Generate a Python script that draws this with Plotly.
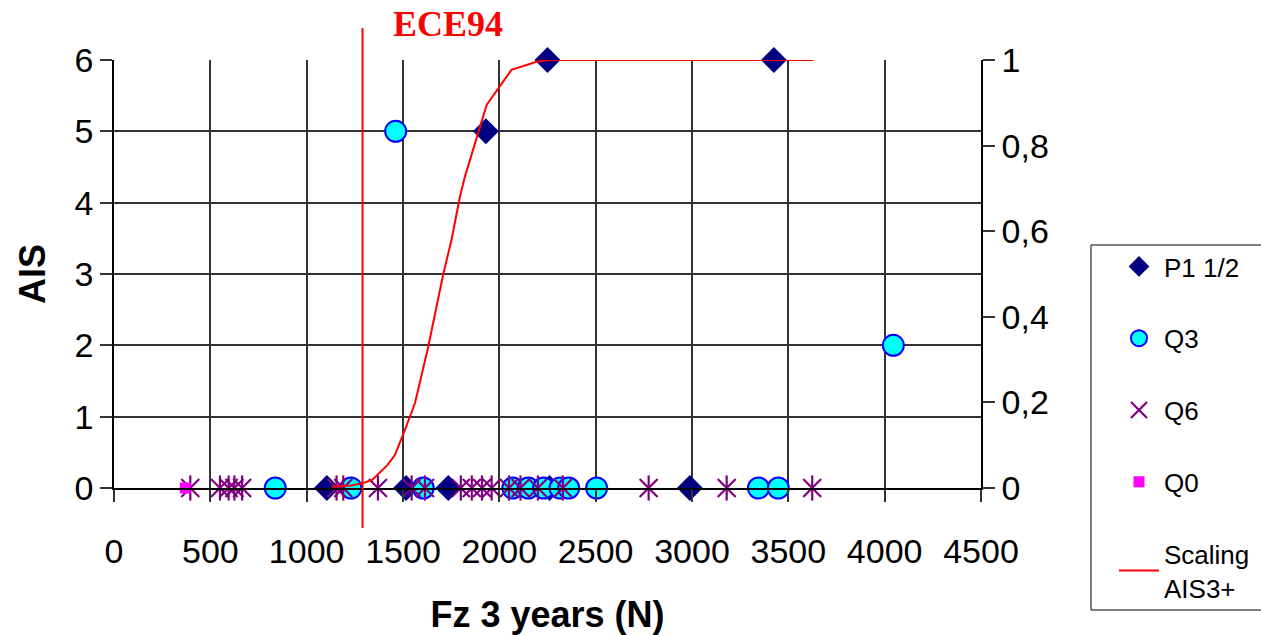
import plotly.graph_objects as go

# ---------------- data ----------------
p1_x = [1105, 1516, 1735, 2260, 2989, 1930, 2250, 3425]
p1_y = [0, 0, 0, 0, 0, 5, 6, 6]

q3_x = [837, 1230, 1605, 2070, 2150, 2230, 2315, 2360, 2505, 3345, 3448, 1462, 4045]
q3_y = [0, 0, 0, 0, 0, 0, 0, 0, 0, 0, 0, 5, 2]

q6_x = [396, 550, 595, 625, 665, 1155, 1190, 1370, 1545, 1614, 1800, 1857, 1910, 1960,
        2050, 2110, 2200, 2330, 2775, 3180, 3624]
q6_y = [0] * len(q6_x)

q0_x = [370]
q0_y = [0]

scaling_x = [1130, 1230, 1290, 1340, 1420, 1458, 1510, 1562, 1631, 1709, 1752, 1795, 1821,
             1934, 2063, 2193, 2262, 3630]
scaling_y = [0.003, 0.006, 0.011, 0.019, 0.054, 0.077, 0.136, 0.198, 0.33, 0.5, 0.58, 0.68,
             0.727, 0.895, 0.977, 0.996, 1.0, 1.0]

ece94_x = 1290

x_ticks = [0, 500, 1000, 1500, 2000, 2500, 3000, 3500, 4000, 4500]
y_ticks = [0, 1, 2, 3, 4, 5, 6]
y2_ticks = [0, 0.2, 0.4, 0.6, 0.8, 1.0]
y2_ticktext = ["0", "0,2", "0,4", "0,6", "0,8", "1"]

# ---------------- figure ----------------
W, H = 1261, 635
ML, MR, MT, MB = 114, 280, 60, 147
FONT = "Liberation Sans, Arial, sans-serif"

fig = go.Figure()

fig.add_trace(go.Scatter(
    x=p1_x, y=p1_y, mode="markers", name="P1 1/2", legendgroup="a",
    marker=dict(symbol="diamond", size=20, color="#000080", line=dict(width=0)),
    cliponaxis=False))
fig.add_trace(go.Scatter(
    x=q3_x, y=q3_y, mode="markers", name="Q3", legendgroup="b",
    marker=dict(symbol="circle", size=21, color="#00FFFF", line=dict(width=2, color="#0000FF")),
    cliponaxis=False))
fig.add_trace(go.Scatter(
    x=q6_x, y=q6_y, mode="markers", name="Q6", legendgroup="c",
    marker=dict(symbol="x-thin-open", size=18, color="#800080", line=dict(width=2.2, color="#800080")),
    cliponaxis=False))
fig.add_trace(go.Scatter(
    x=q6_x, y=q6_y, mode="markers", name="Q6", legendgroup="c", showlegend=False,
    marker=dict(symbol="line-ns-open", size=18, color="#800080", line=dict(width=2.2, color="#800080")),
    cliponaxis=False))
fig.add_trace(go.Scatter(
    x=q0_x, y=q0_y, mode="markers", name="Q0", legendgroup="d",
    marker=dict(symbol="square", size=11, color="#FF00FF", line=dict(width=0)),
    cliponaxis=False))
fig.add_trace(go.Scatter(
    x=scaling_x, y=scaling_y, mode="lines", name="Scaling<br>AIS3+", legendgroup="e",
    line=dict(color="#FF0000", width=2), yaxis="y2", cliponaxis=False))

pw = W - ML - MR
ph = H - MT - MB

def px2paper_x(px):
    return (px - ML) / pw

def px2paper_y(py):
    return (H - MB - py) / ph

# ECE94 vertical line
fig.add_shape(type="line", xref="x", yref="paper", x0=ece94_x, x1=ece94_x,
              y0=px2paper_y(528), y1=px2paper_y(28),
              line=dict(color="#FF0000", width=2), layer="above")
fig.add_annotation(text="<b>ECE94</b>", xref="x", yref="paper", x=ece94_x + 150,
                   y=px2paper_y(24), xanchor="left", yanchor="middle", showarrow=False,
                   font=dict(family="Liberation Serif, Times New Roman, serif", size=36, color="#FF0000"))

# legend box
fig.add_shape(type="rect", xref="paper", yref="paper",
              x0=px2paper_x(1091), x1=px2paper_x(1265),
              y0=px2paper_y(610), y1=px2paper_y(245),
              line=dict(color="#000000", width=1), fillcolor="white", layer="below")

fig.update_layout(
    width=W, height=H,
    margin=dict(l=ML, r=MR, t=MT, b=MB, autoexpand=False),
    paper_bgcolor="white", plot_bgcolor="white",
    font=dict(family=FONT, color="#000000"),
    showlegend=True,
    legend=dict(x=px2paper_x(1114), y=px2paper_y(243), xanchor="left", yanchor="top",
                bgcolor="rgba(0,0,0,0)", borderwidth=0,
                font=dict(family=FONT, size=26, color="#000000"),
                traceorder="grouped", tracegroupgap=35, itemwidth=40),
    xaxis=dict(range=[0, 4500], tickvals=x_ticks, showgrid=True, gridcolor="#333333", gridwidth=1.5,
               zeroline=False, showline=True, linecolor="#000000", linewidth=1.5,
               ticks="outside", ticklen=12, tickcolor="#333333", tickwidth=1.5,
               tickfont=dict(size=34), ticklabelstandoff=20,
               title=dict(text="<b>Fz 3 years (N)</b>", font=dict(size=36), standoff=34)),
    yaxis=dict(range=[0, 6], tickvals=y_ticks, showgrid=True, gridcolor="#333333", gridwidth=1.5,
               zeroline=False, showline=True, linecolor="#000000", linewidth=1.5,
               ticks="outside", ticklen=12, tickcolor="#333333", tickwidth=1.5,
               tickfont=dict(size=34),
               title=dict(text="<b>AIS</b>", font=dict(size=36), standoff=18)),
    yaxis2=dict(range=[0, 1], tickvals=y2_ticks, ticktext=y2_ticktext, overlaying="y", side="right",
                showgrid=False, zeroline=False, showline=True, linecolor="#000000", linewidth=1.5,
                ticks="outside", ticklen=12, tickcolor="#333333", tickwidth=1.5,
                tickfont=dict(size=34)),
)

fig.write_html("out.html")
